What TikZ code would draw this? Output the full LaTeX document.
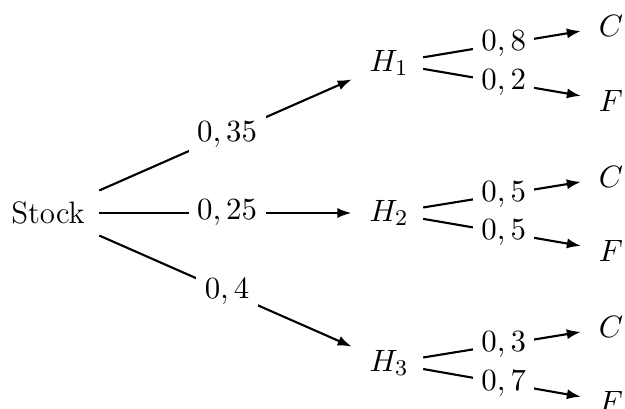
\documentclass[tikz,border=0pt]{standalone}
\usetikzlibrary{arrows.meta}
\begin{document}
\begin{tikzpicture}[x=0.355pt,y=-0.355pt,font=\fontsize{11}{13}\selectfont,
  tnode/.style={inner sep=5pt},
  lab/.style={fill=white,inner sep=3pt,midway},
  br/.style={line width=0.75pt,-{Latex[length=5pt,width=3.6pt]},shorten >=1.2pt}]
\path[use as bounding box,clip] (0,0) rectangle (625,408);
\node[tnode] (S) at (48,213) {Stock};
\node[tnode] (H1) at (389,63) {$H_1$};
\node[tnode] (H2) at (389,213) {$H_2$};
\node[tnode] (H3) at (389,363) {$H_3$};
\node[tnode] (C1) at (611,26) {$C$};
\node[tnode] (F1) at (611,101) {$F$};
\node[tnode] (C2) at (611,177) {$C$};
\node[tnode] (F2) at (611,251) {$F$};
\node[tnode] (C3) at (611,327) {$C$};
\node[tnode] (F3) at (611,402) {$F$};
\draw[br] (S) -- node[lab] {$0,35$} (H1);
\draw[br] (S) -- node[lab] {$0,25$} (H2);
\draw[br] (S) -- node[lab] {$0,4$} (H3);
\draw[br] (H1) -- node[lab] {$0,8$} (C1);
\draw[br] (H1) -- node[lab] {$0,2$} (F1);
\draw[br] (H2) -- node[lab] {$0,5$} (C2);
\draw[br] (H2) -- node[lab] {$0,5$} (F2);
\draw[br] (H3) -- node[lab] {$0,3$} (C3);
\draw[br] (H3) -- node[lab] {$0,7$} (F3);
\end{tikzpicture}
\end{document}
